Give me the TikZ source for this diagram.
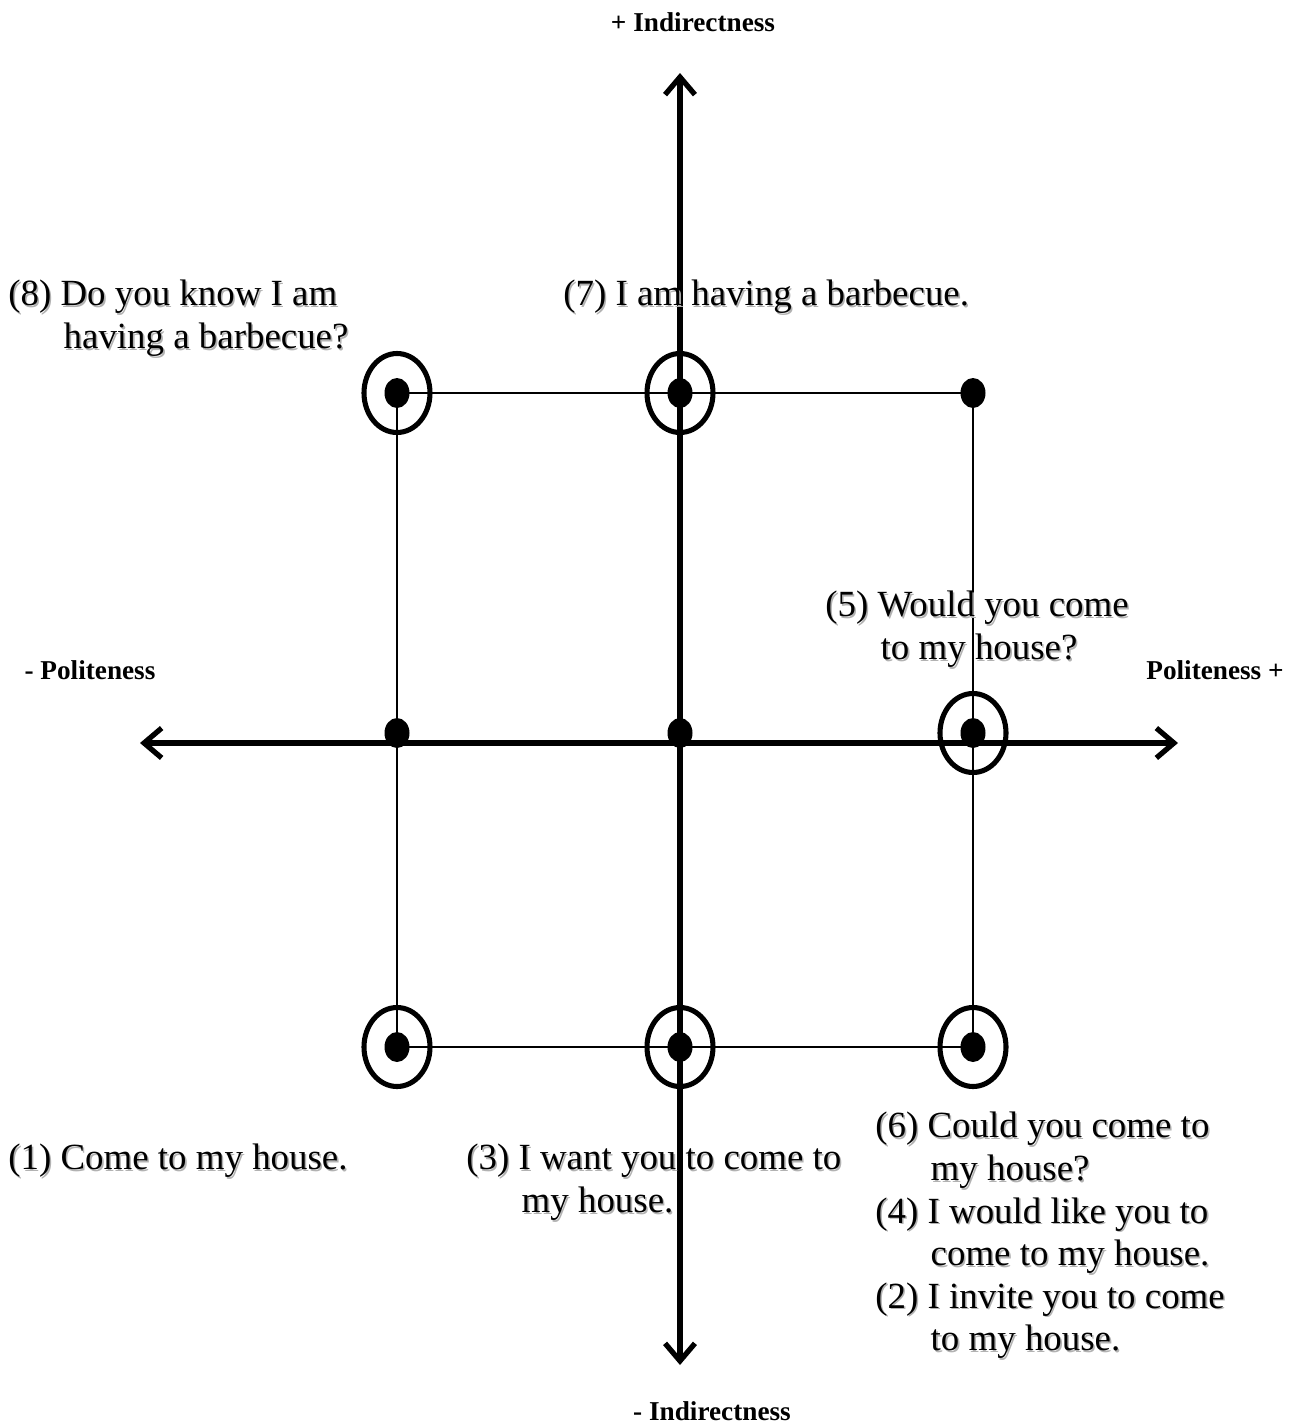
\documentclass[tikz,border=0pt]{standalone}
\usepackage{fontspec}
\setmainfont{Liberation Serif}
\usetikzlibrary{positioning, arrows.meta, shapes.geometric}
\newcommand{\shd}[1]{\rlap{\textcolor{black!30}{\hspace{0.9pt}\raisebox{-0.9pt}{#1}}}#1}
\newcommand{\ind}{\hspace*{31.5pt}}

\begin{document}
\begin{tikzpicture}[x=0.02cm, y=-0.02cm,
    axis/.style={line width=3pt,
      {Straight Barb[length=10pt, width=17pt]}-{Straight Barb[length=10pt, width=17pt]}},
    frame/.style={line width=0.85pt},
    dot/.style={ellipse, fill=black, inner sep=0pt, minimum width=0.5cm, minimum height=0.6cm},
    ring/.style={ellipse, draw, line width=2.9pt, inner sep=0pt, minimum width=1.32cm, minimum height=1.58cm},
    sentence/.style={anchor=north west, inner sep=0pt, align=left,
      font=\fontsize{21}{24.2}\selectfont},
    axislabel/.style={inner sep=0pt, font=\bfseries\fontsize{15.5}{18}\selectfont}]
  \useasboundingbox (0,0) rectangle (1291,1427);

  % points of the grid
  \foreach \n/\x/\y in {tl/397/393, tc/680/393, tr/973/393,
                        ml/397/733, mc/680/733, mr/973/733,
                        bl/397/1047, bc/680/1047, br/973/1047}
    \node[dot] (\n) at (\x,\y) {};
  \foreach \n in {tl, tc, mr, bl, bc, br}
    \node[ring] (ring-\n) at (\n) {};

  \draw[frame] (tl.center) -- (tc.center) -- (tr.center) -- (mr.center) -- (br.center)
    -- (bc.center) -- (bl.center) -- (ml.center) -- cycle;

  % axes
  \coordinate (polL) at (140,743);
  \coordinate (polR) at (1178,743);
  \coordinate (indT) at (680,73);
  \coordinate (indB) at (680,1365);
  \draw[axis] (polL) -- (polR);
  \draw[axis] (indB) -- (indT);

  \node[axislabel] (indTop) at (693,22) {+ Indirectness};
  \node[axislabel] (indBot) at (712,1411) {- Indirectness};
  \node[axislabel] (polLeft) at (90,670) {- Politeness};
  \node[axislabel] (polRight) at (1215,670) {Politeness +};

  % utterances
  \node[sentence] (s8) at (8,280) {\shd{(8) Do you know I am}\\\ind\shd{having a barbecue?}};
  \node[sentence] (s7) at (563,280) {\shd{(7) I am having a barbecue.}};
  \node[sentence] (s5) at (825,591) {\shd{(5) Would you come}\\\ind\shd{to my house?}};
  \node[sentence] (s1) at (8,1144) {\shd{(1) Come to my house.}};
  \node[sentence] (s3) at (466,1144) {\shd{(3) I want you to come to}\\\ind\shd{my house.}};
  \node[sentence] (s6) at (875,1112) {\shd{(6) Could you come to}\\\ind\shd{my house?}\\
    \shd{(4) I would like you to}\\\ind\shd{come to my house.}\\
    \shd{(2) I invite you to come}\\\ind\shd{to my house.}};
\end{tikzpicture}
\end{document}
